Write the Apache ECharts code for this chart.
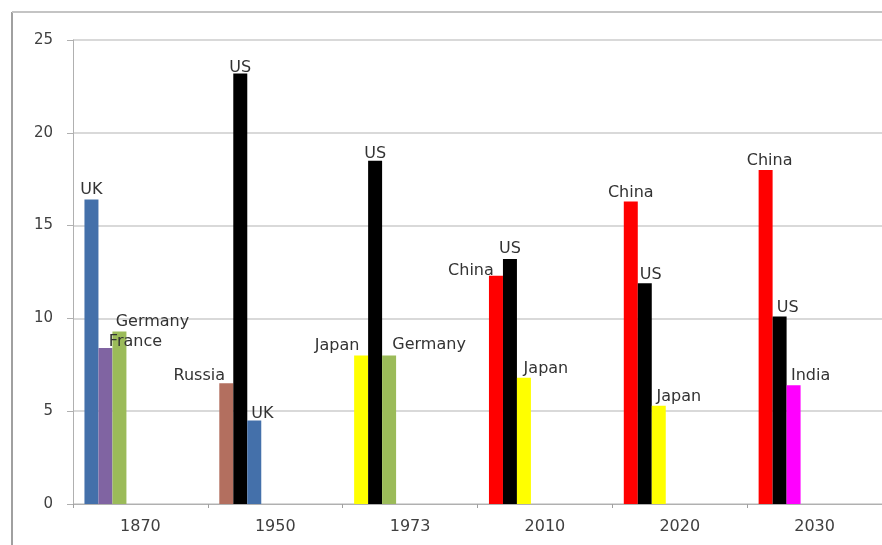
<!DOCTYPE html>
<html>
<head>
<meta charset="utf-8">
<script src="https://cdn.jsdelivr.net/npm/echarts@6/dist/echarts.min.js"></script>
<style>
html,body{margin:0;padding:0;background:#fff;overflow:hidden;}
#chart{width:882px;height:545px;}
</style>
</head>
<body>
<div id="chart"></div>
<script>
// ---- data ----
var categories = ['1870', '1950', '1973', '2010', '2020', '2030'];
var slot1Countries = ['UK', 'Russia', 'Japan', 'China', 'China', 'China'];
var slot1Values = [16.4, 6.5, 8.0, 12.3, 16.3, 18.0];
var slot2Countries = ['France', 'US', 'US', 'US', 'US', 'US'];
var slot2Values = [8.4, 23.2, 18.5, 13.2, 11.9, 10.1];
var slot3Countries = ['Germany', 'UK', 'Germany', 'Japan', 'Japan', 'India'];
var slot3Values = [9.3, 4.5, 8.0, 6.8, 5.3, 6.4];
var yTicks = [0, 5, 10, 15, 20, 25];

// ---- styles ----
var countryColors = {
  'UK': '#4470aa', 'France': '#8064a2', 'Germany': '#9bbb59', 'Russia': '#b36f5f',
  'US': '#000000', 'Japan': '#ffff00', 'China': '#ff0000', 'India': '#ff00ff'
};
// label offsets [dx, dy] per slot per category (manual label placement)
var labelShift = [
  [[0, -1], [-27, 1], [-24, -1], [-25, 4], [0, 0], [4, 0]],
  [[30, 3], [0, 3], [0, 2], [0, -1], [6, 1], [8, 0]],
  [[33, -1], [8, 2], [40, -2], [22, 0], [20, 0], [17, 0]]
];
var FONT = 'DejaVu Sans';
var CAT_GAP = '17%';

function buildSlot(values, countries, slotIdx) {
  return {
    type: 'bar',
    name: 'slot' + (slotIdx + 1),
    barGap: '0%',
    barCategoryGap: CAT_GAP,
    data: values.map(function (v, i) {
      return {
        value: v,
        itemStyle: { color: countryColors[countries[i]] },
        label: {
          show: true,
          position: 'top',
          distance: 1,
          offset: labelShift[slotIdx][i],
          formatter: countries[i],
          color: '#333333',
          fontFamily: FONT,
          fontSize: 16
        }
      };
    })
  };
}

var series = [
  buildSlot(slot1Values, slot1Countries, 0),
  buildSlot(slot2Values, slot2Countries, 1),
  buildSlot(slot3Values, slot3Countries, 2)
];
// empty slots reserving the remaining bar positions of each category
for (var k = 3; k < 8; k++) {
  series.push({ type: 'bar', name: 'empty' + k, barGap: '0%', barCategoryGap: CAT_GAP, data: [] });
}

var chart = echarts.init(document.getElementById('chart'), null, { renderer: 'canvas' });
chart.setOption({
  backgroundColor: '#ffffff',
  animation: false,
  textStyle: { fontFamily: FONT },
  grid: { left: 73, top: 40, bottom: 41, right: -4, containLabel: false },
  xAxis: {
    type: 'category',
    data: categories,
    axisLine: { show: true, lineStyle: { color: '#b0b0b0', width: 1 } },
    axisTick: { show: true, length: 4, interval: 0, lineStyle: { color: '#a0a0a0' } },
    axisLabel: { color: '#404040', fontSize: 16, fontFamily: FONT, margin: 15, interval: 0 },
    splitLine: { show: false }
  },
  yAxis: {
    type: 'value',
    min: yTicks[0],
    max: yTicks[yTicks.length - 1],
    interval: 5,
    axisLine: { show: true, lineStyle: { color: '#b0b0b0', width: 1 } },
    axisTick: { show: true, length: 6, lineStyle: { color: '#b0b0b0' } },
    axisLabel: { color: '#404040', fontSize: 15, fontFamily: FONT, margin: 20 },
    splitLine: { show: true, lineStyle: { color: '#cccccc', width: 1.5 } }
  },
  graphic: [
    { type: 'line', shape: { x1: 12, y1: 12, x2: 12, y2: 545 }, style: { stroke: '#a0a0a0', lineWidth: 2 } },
    { type: 'line', shape: { x1: 12, y1: 12, x2: 882, y2: 12 }, style: { stroke: '#c4c4c4', lineWidth: 2 } }
  ],
  series: series
});
</script>
</body>
</html>
